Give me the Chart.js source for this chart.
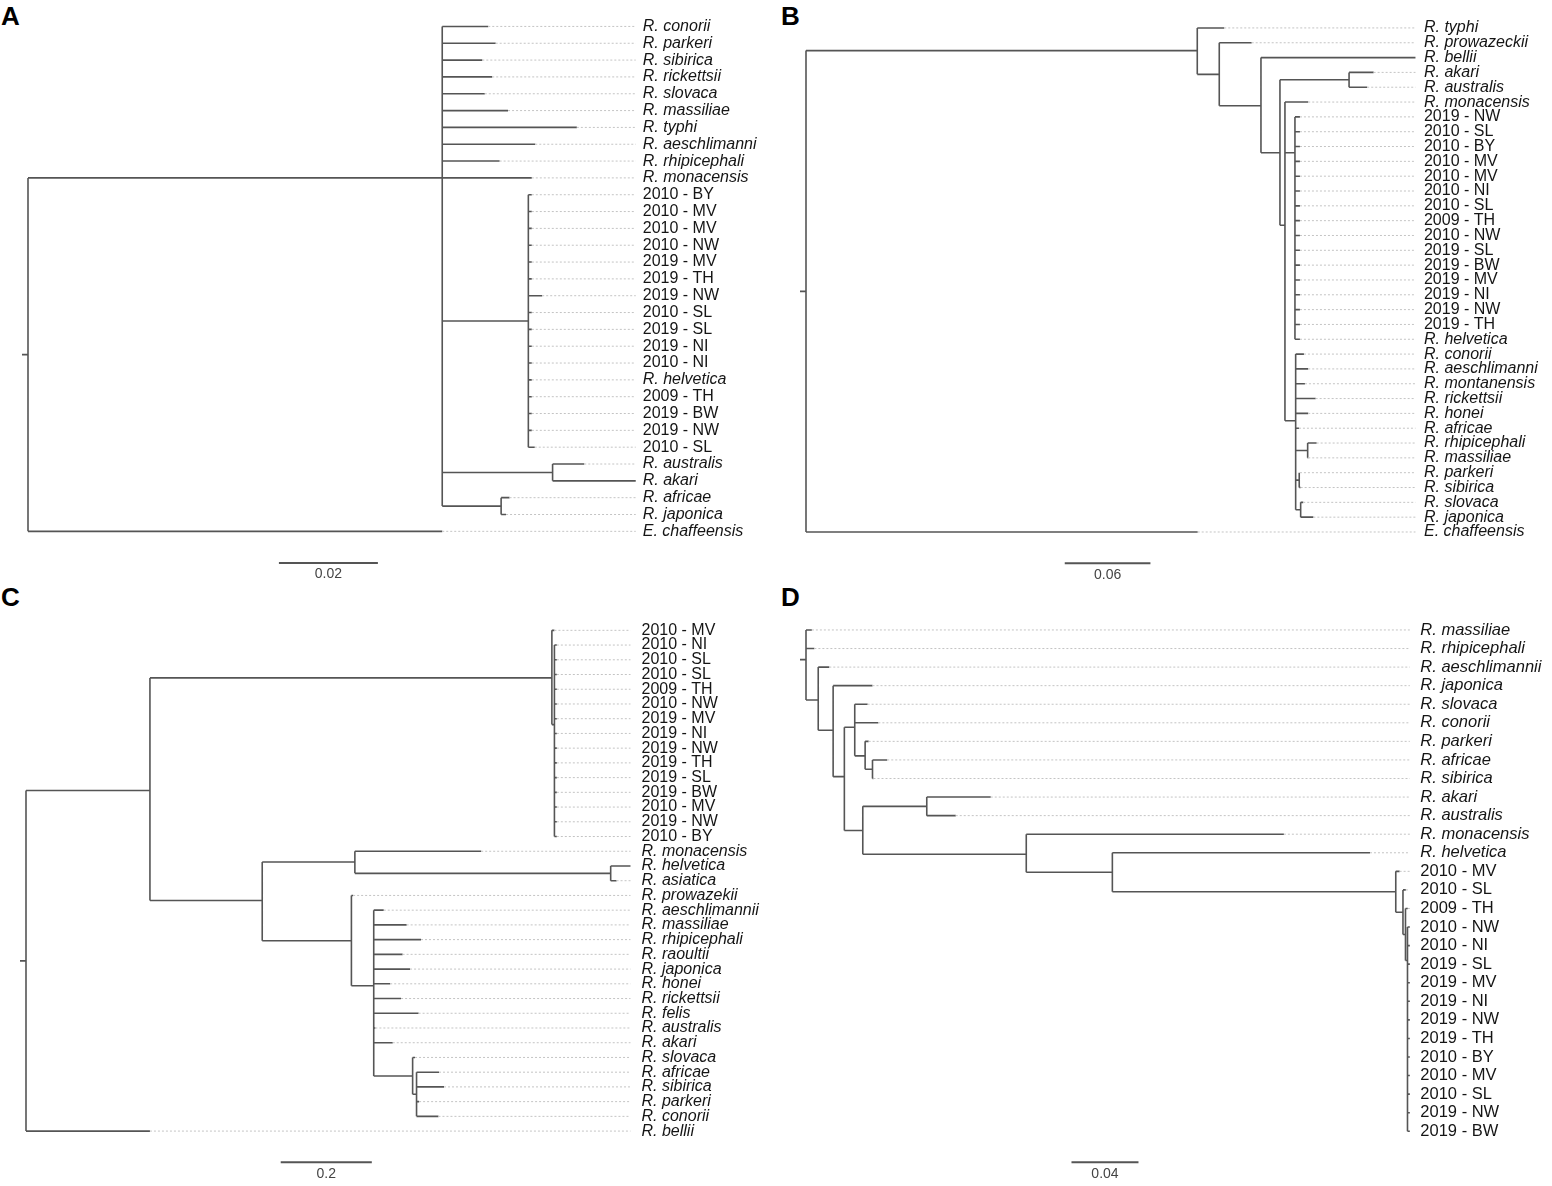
<!DOCTYPE html>
<html lang="en">
<head>
<meta charset="UTF-8">
<title>Rickettsia trees</title>
<script src="https://cdn.jsdelivr.net/npm/chart.js"></script>
<style>
    body { margin: 0; background: #fff; width: 1552px; height: 1186px; position: relative; overflow: hidden; }
    canvas { position: absolute; }
    .tag { position: absolute; font: bold 26px "Liberation Sans", Arial, sans-serif; line-height: 26px; color: #000; }
</style>
</head>
<body>
<div class="tag" style="left:1px;top:3px">A</div>
<div class="tag" style="left:781px;top:3px">B</div>
<div class="tag" style="left:1px;top:584px">C</div>
<div class="tag" style="left:781px;top:584px">D</div>
<canvas id="treeA"></canvas>
<canvas id="treeB"></canvas>
<canvas id="treeC"></canvas>
<canvas id="treeD"></canvas>

<script>
    // Panel A - leaves top to bottom, tip distance, parent node
    var labelsA = ['R. conorii', 'R. parkeri', 'R. sibirica', 'R. rickettsii', 'R. slovaca', 'R. massiliae', 'R. typhi',
        'R. aeschlimanni', 'R. rhipicephali', 'R. monacensis', '2010 - BY', '2010 - MV', '2010 - MV', '2010 - NW',
        '2019 - MV', '2019 - TH', '2019 - NW', '2010 - SL', '2019 - SL', '2019 - NI', '2010 - NI', 'R. helvetica',
        '2009 - TH', '2019 - BW', '2019 - NW', '2010 - SL', 'R. australis', 'R. akari', 'R. africae', 'R. japonica',
        'E. chaffeensis'];
    var tipsA = [0.0930, 0.0945, 0.0918, 0.0938, 0.0923, 0.0970, 0.1109, 0.1025, 0.0953, 0.1018,
        0.1018, 0.1018, 0.1018, 0.1018, 0.1018, 0.1018, 0.1039, 0.1018, 0.1018, 0.1018, 0.1018, 0.1018,
        0.1018, 0.1018, 0.1018, 0.1024, 0.1124, 0.1228, 0.0973, 0.0966, 0.0837];
    var parentsA = ['I', 'I', 'I', 'I', 'I', 'I', 'I', 'I', 'I', 'I',
        'S', 'S', 'S', 'S', 'S', 'S', 'S', 'S', 'S', 'S', 'S', 'S', 'S', 'S', 'S', 'S',
        'AA', 'AA', 'AJ', 'AJ', 'root'];
    // internal nodes: [id, parent, distance, row]
    var nodesA = [['root', null, 0, 19.5], ['I', 'root', 0.0837, 9], ['S', 'I', 0.1011, 17.5],
        ['AA', 'I', 0.1060, 26.5], ['AJ', 'I', 0.0956, 28.5]];
    var barA = [0.0507, 0.02];

    // Panel B
    var labelsB = ['R. typhi', 'R. prowazeckii', 'R. bellii', 'R. akari', 'R. australis', 'R. monacensis',
        '2019 - NW', '2010 - SL', '2010 - BY', '2010 - MV', '2010 - MV', '2010 - NI', '2010 - SL', '2009 - TH',
        '2010 - NW', '2019 - SL', '2019 - BW', '2019 - MV', '2019 - NI', '2019 - NW', '2019 - TH', 'R. helvetica',
        'R. conorii', 'R. aeschlimanni', 'R. montanensis', 'R. rickettsii', 'R. honei', 'R. africae',
        'R. rhipicephali', 'R. massiliae', 'R. parkeri', 'R. sibirica', 'R. slovaca', 'R. japonica', 'E. chaffeensis'];
    var tipsB = [0.2929, 0.3121, 0.4268, 0.3975, 0.3930, 0.3517,
        0.3459, 0.3459, 0.3459, 0.3459, 0.3459, 0.3459, 0.3459, 0.3459, 0.3459, 0.3459, 0.3459, 0.3459,
        0.3459, 0.3459, 0.3459, 0.3459,
        0.3487, 0.3517, 0.3494, 0.3569, 0.3517, 0.3452, 0.3576, 0.3517, 0.3459, 0.3464, 0.3482, 0.3553, 0.2743];
    var parentsB = ['I', 'N2', 'N3', 'AA', 'AA', 'N5',
        'S', 'S', 'S', 'S', 'S', 'S', 'S', 'S', 'S', 'S', 'S', 'S', 'S', 'S', 'S', 'S',
        'SFG', 'SFG', 'SFG', 'SFG', 'SFG', 'SFG', 'RM', 'RM', 'PS', 'PS', 'SJ', 'SJ', 'root'];
    var nodesB = [['root', null, 0, 17.77], ['I', 'root', 0.2740, 1.53], ['N2', 'I', 0.2894, 3.13],
        ['N3', 'N2', 0.3186, 5.25], ['N4', 'N3', 0.3319, 8.42], ['AA', 'N4', 0.3803, 3.5],
        ['N5', 'N4', 0.3354, 13.31], ['S', 'N5', 0.3424, 8.42], ['SFG', 'N5', 0.3429, 26.5],
        ['RM', 'SFG', 0.3513, 28.5], ['PS', 'SFG', 0.3454, 30.5], ['SJ', 'SFG', 0.3464, 32.5]];
    var barB = [0.1812, 0.06];

    // Panel C
    var labelsC = ['2010 - MV', '2010 - NI', '2010 - SL', '2010 - SL', '2009 - TH', '2010 - NW', '2019 - MV',
        '2019 - NI', '2019 - NW', '2019 - TH', '2019 - SL', '2019 - BW', '2010 - MV', '2019 - NW', '2010 - BY',
        'R. monacensis', 'R. helvetica', 'R. asiatica', 'R. prowazekii', 'R. aeschlimannii', 'R. massiliae',
        'R. rhipicephali', 'R. raoultii', 'R. japonica', 'R. honei', 'R. rickettsii', 'R. felis', 'R. australis',
        'R. akari', 'R. slovaca', 'R. africae', 'R. sibirica', 'R. parkeri', 'R. conorii', 'R. bellii'];
    var tipsC = [1.1601, 1.1654, 1.1654, 1.1654, 1.1654, 1.1654, 1.1654, 1.1654, 1.1654, 1.1654, 1.1654,
        1.1654, 1.1654, 1.1654, 1.1654, 0.9993, 1.3271, 1.2965, 0.7182, 0.7854, 0.8357, 0.8672, 0.8268,
        0.8432, 0.7996, 0.8235, 0.8619, 0.7670, 0.8051, 0.8541, 0.9067, 0.9177, 0.8630, 0.9055, 0.2721];
    var parentsC = ['S', 'S2', 'S2', 'S2', 'S2', 'S2', 'S2', 'S2', 'S2', 'S2', 'S2', 'S2', 'S2', 'S2', 'S2',
        'N3', 'HA', 'HA', 'N4', 'SFG', 'SFG', 'SFG', 'SFG', 'SFG', 'SFG', 'SFG', 'SFG', 'SFG', 'SFG',
        'SA', 'SB', 'SB', 'SB', 'SB', 'root'];
    var nodesC = [['root', null, 0, 22.44], ['I', 'root', 0.2721, 10.88], ['S', 'I', 1.1545, 3.23],
        ['S2', 'S', 1.1601, 6.4], ['N2', 'I', 0.5186, 18.34], ['N3', 'N2', 0.7220, 15.73],
        ['HA', 'N3', 1.2836, 16.5], ['N4', 'N2', 0.7144, 21.08], ['SFG', 'N4', 0.7634, 24.13],
        ['SA', 'SFG', 0.8488, 30.26], ['SB', 'SA', 0.8574, 31.5]];
    var barC = [0.5592, 0.2];

    // Panel D
    var labelsD = ['R. massiliae', 'R. rhipicephali', 'R. aeschlimannii', 'R. japonica', 'R. slovaca', 'R. conorii',
        'R. parkeri', 'R. africae', 'R. sibirica', 'R. akari', 'R. australis', 'R. monacensis', 'R. helvetica',
        '2010 - MV', '2010 - SL', '2009 - TH', '2010 - NW', '2010 - NI', '2019 - SL', '2019 - MV', '2019 - NI',
        '2019 - NW', '2019 - TH', '2010 - BY', '2010 - MV', '2010 - SL', '2019 - NW', '2019 - BW'];
    var tipsD = [0.0035, 0.0050, 0.0139, 0.0397, 0.0368, 0.0432, 0.0374, 0.0485, 0.0403, 0.1103, 0.0894,
        0.2853, 0.3367, 0.3544, 0.3581, 0.3593, 0.3605, 0.3605, 0.3605, 0.3605, 0.3605, 0.3605, 0.3605,
        0.3605, 0.3605, 0.3605, 0.3605, 0.3605];
    var parentsD = ['root', 'root', 'N1', 'N2', 'N4', 'N4', 'N5', 'N6', 'N6', 'AA', 'AA', 'N8', 'N9',
        'S', 'S2', 'S3', 'S4', 'S4', 'S4', 'S4', 'S4', 'S4', 'S4', 'S4', 'S4', 'S4', 'S4', 'S4'];
    var nodesD = [['root', null, 0, 1.6], ['N1', 'root', 0.0073, 3.77], ['N2', 'N1', 0.0162, 5.4],
        ['N3', 'N2', 0.0229, 7.9], ['N4', 'N3', 0.0291, 5.24], ['N5', 'N4', 0.0353, 6.78],
        ['N6', 'N5', 0.0397, 7.5], ['N7', 'N3', 0.0339, 10.8], ['AA', 'N7', 0.0721, 9.5],
        ['N8', 'N7', 0.1315, 12.08], ['N9', 'N8', 0.1829, 13.05], ['S', 'N9', 0.3521, 14.1],
        ['S2', 'S', 0.3564, 15.2], ['S3', 'S2', 0.3579, 16.4], ['S4', 'S3', 0.3591, 17.8]];
    var barD = [0.1585, 0.04];

    var FONT = '"Liberation Sans", Arial, sans-serif';

    // turn the tree into line segments (null point = pen up)
    function buildTree(labels, tips, parents, nodes, stub) {
        var nx = {}, kids = {}, branches = [], leaders = [];
        function seg(x1, y1, x2, y2) {
            branches.push({x: x1, y: y1}, {x: x2, y: y2}, {x: x2, y: null});
        }
        nodes.forEach(function(n) { nx[n[0]] = n[2]; kids[n[0]] = []; });
        nodes.forEach(function(n) {
            if (n[1]) {
                kids[n[1]].push(n[3]);
                seg(nx[n[1]], n[3], n[2], n[3]);
            } else {
                seg(n[2] - stub, n[3], n[2], n[3]); // little stub left of the root
            }
        });
        labels.forEach(function(l, i) {
            kids[parents[i]].push(i);
            seg(nx[parents[i]], i, tips[i], i);
        });
        nodes.forEach(function(n) {
            var k = kids[n[0]];
            seg(n[2], Math.min.apply(null, k), n[2], Math.max.apply(null, k));
        });
        var xEnd = Math.max.apply(null, tips);
        labels.forEach(function(l, i) {
            if (tips[i] < xEnd) leaders.push({x: tips[i], y: i}, {x: xEnd, y: i}, {x: xEnd, y: null});
        });
        return {branches: branches, leaders: leaders, xEnd: xEnd};
    }

    function drawTree(id, labels, tips, parents, nodes, bar, box) {
        var t = buildTree(labels, tips, parents, nodes, 6 / box.ppu);
        var padTop = 12;
        var chartW = box.lead + t.xEnd * box.ppu;
        var chartH = (box.barRow + 1) * box.dy;
        var cv = document.getElementById(id);
        cv.width = Math.round(chartW + 160);
        cv.height = Math.round(chartH + padTop + 28);
        var axisW = cv.width - chartW;
        var axisH = cv.height - chartH - padTop;
        cv.style.left = (box.left - box.lead) + 'px';
        cv.style.top = (box.top - box.dy - padTop) + 'px';

        new Chart(cv.getContext('2d'), {
            type: 'line',
            data: {
                datasets: [{
                    data: t.leaders,
                    borderColor: '#c4c4c4',
                    borderWidth: 1,
                    borderDash: [2, 2],
                    pointRadius: 0,
                    spanGaps: false,
                    clip: false
                }, {
                    data: t.branches,
                    borderColor: '#555555',
                    borderWidth: 1.6,
                    pointRadius: 0,
                    spanGaps: false,
                    clip: false
                }, {
                    data: [{x: bar[0], y: box.barRow}, {x: bar[0] + bar[1], y: box.barRow}],
                    borderColor: '#555555',
                    borderWidth: 2,
                    pointRadius: 0,
                    clip: false
                }]
            },
            options: {
                responsive: false,
                animation: false,
                devicePixelRatio: 1,
                layout: {padding: {top: padTop, left: 0, right: 0, bottom: 0}},
                plugins: {legend: {display: false}, tooltip: {enabled: false}},
                elements: {line: {tension: 0, borderCapStyle: 'butt'}},
                scales: {
                    x: {
                        type: 'linear',
                        min: -box.lead / box.ppu,
                        max: t.xEnd,
                        grid: {display: false, drawTicks: false},
                        border: {display: false},
                        afterBuildTicks: function(s) { s.ticks = [{value: bar[0] + bar[1] / 2}]; },
                        afterFit: function(s) { s.height = axisH; },
                        ticks: {
                            autoSkip: false, maxRotation: 0, padding: 3, color: '#444',
                            font: {family: FONT, size: 14},
                            callback: function() { return String(bar[1]); }
                        }
                    },
                    y: {
                        type: 'linear',
                        position: 'right',
                        reverse: true,
                        min: -1,
                        max: box.barRow,
                        grid: {display: false, drawTicks: false},
                        border: {display: false},
                        afterBuildTicks: function(s) {
                            s.ticks = labels.map(function(l, i) { return {value: i}; });
                        },
                        afterFit: function(s) { s.width = axisW; },
                        ticks: {
                            autoSkip: false, padding: box.gap, color: '#151515',
                            callback: function(v) { return labels[v]; },
                            font: function(c) {
                                var italic = /^[A-Z]\. /.test(labels[c.index]);
                                return {family: FONT, size: box.fs, style: italic ? 'italic' : 'normal'};
                            }
                        }
                    }
                }
            }
        });
    }

    drawTree('treeA', labelsA, tipsA, parentsA, nodesA, barA,
        {left: 28.4, ppu: 4949, top: 21.7, dy: 16.97, barRow: 31.88, lead: 14, gap: 7, fs: 16});
    drawTree('treeB', labelsB, tipsB, parentsB, nodesB, barB,
        {left: 806, ppu: 1428, top: 22, dy: 14.99, barRow: 36.11, lead: 14, gap: 8.5, fs: 16});
    drawTree('treeC', labelsC, tipsC, parentsC, nodesC, barC,
        {left: 26.4, ppu: 455.5, top: 622.3, dy: 14.96, barRow: 36.12, lead: 14, gap: 11, fs: 16});
    drawTree('treeD', labelsD, tipsD, parentsD, nodesD, barD,
        {left: 806.1, ppu: 1675, top: 622.3, dy: 18.85, barRow: 28.67, lead: 14, gap: 10.5, fs: 16.5});
</script>
</body>
</html>
